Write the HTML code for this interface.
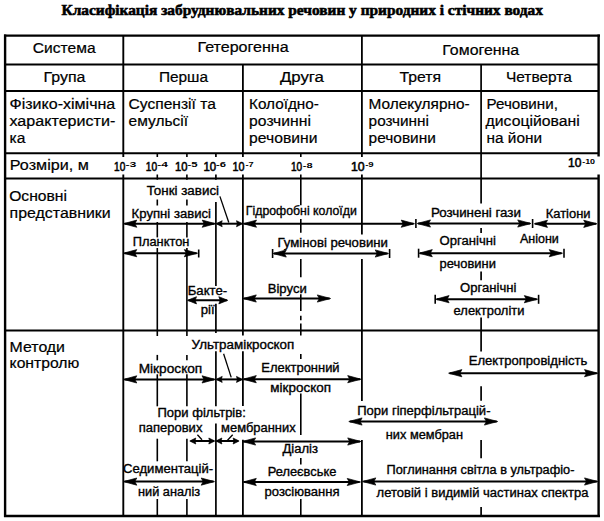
<!DOCTYPE html>
<html><head><meta charset="utf-8"><style>
html,body{margin:0;padding:0;background:#fff;width:604px;height:521px;overflow:hidden}
svg{display:block}
line{stroke:#000;stroke-linecap:butt}
path{fill:#000;stroke:#000;stroke-width:0.7;stroke-linejoin:miter}
text{fill:#000}
.h{font-family:"Liberation Sans",sans-serif;stroke:#000;stroke-width:0.2}
.l{font-family:"Liberation Sans",sans-serif;stroke:#000;stroke-width:0.35}
.p{font-family:"Liberation Sans",sans-serif;stroke:#000;stroke-width:0.55}
.s{font-family:"Liberation Sans",sans-serif;font-weight:bold}
.t{font-family:"Liberation Serif",serif;font-weight:bold;stroke:#000;stroke-width:0.6}
</style></head><body>
<svg width="604" height="521" viewBox="0 0 604 521">
<line x1="4" y1="35.6" x2="600" y2="35.6" stroke-width="2.4"/>
<line x1="5" y1="64.5" x2="598.5" y2="64.5" stroke-width="1.9"/>
<line x1="5" y1="91" x2="598.5" y2="91" stroke-width="1.9"/>
<line x1="5" y1="153.2" x2="598.5" y2="153.2" stroke-width="2.0"/>
<line x1="5" y1="178.4" x2="598.5" y2="178.4" stroke-width="2.0"/>
<line x1="5" y1="330.5" x2="598.5" y2="330.5" stroke-width="2.0"/>
<line x1="4" y1="516" x2="600" y2="516" stroke-width="2.4"/>
<line x1="5.1" y1="34.5" x2="5.1" y2="517" stroke-width="2.4"/>
<line x1="598.6" y1="34.5" x2="598.6" y2="156.5" stroke-width="2.4"/>
<line x1="598.6" y1="174.5" x2="598.6" y2="517" stroke-width="2.4"/>
<line x1="123.3" y1="35.6" x2="123.3" y2="157" stroke-width="1.9"/>
<line x1="123.3" y1="174.5" x2="123.3" y2="516" stroke-width="1.9"/>
<line x1="361.9" y1="35.6" x2="361.9" y2="157" stroke-width="1.8"/>
<line x1="361.9" y1="174.5" x2="361.9" y2="234.5" stroke-width="1.8"/>
<line x1="361.9" y1="259" x2="361.9" y2="401" stroke-width="1.8"/>
<line x1="361.9" y1="440" x2="361.9" y2="516" stroke-width="1.8"/>
<line x1="242.9" y1="64.5" x2="242.9" y2="157" stroke-width="1.8"/>
<line x1="242.9" y1="174.5" x2="242.9" y2="330.5" stroke-width="1.8"/>
<line x1="242.9" y1="330.5" x2="242.9" y2="335.5" stroke-width="1.8"/>
<line x1="242.9" y1="351.2" x2="242.9" y2="406" stroke-width="1.8"/>
<line x1="242.9" y1="439.8" x2="242.9" y2="516" stroke-width="1.8"/>
<line x1="481.1" y1="64.5" x2="481.1" y2="203.6" stroke-width="1.7"/>
<line x1="481.1" y1="228" x2="481.1" y2="233" stroke-width="1.7"/>
<line x1="481.1" y1="271.5" x2="481.1" y2="280.3" stroke-width="1.7"/>
<line x1="481.1" y1="317.5" x2="481.1" y2="351.5" stroke-width="1.7"/>
<line x1="481.1" y1="386.3" x2="481.1" y2="400.7" stroke-width="1.7"/>
<line x1="481.1" y1="440" x2="481.1" y2="458.3" stroke-width="1.7"/>
<line x1="481.1" y1="507" x2="481.1" y2="516" stroke-width="1.7"/>
<line x1="157.3" y1="153.2" x2="157.3" y2="157" stroke-width="1.6"/>
<line x1="157.3" y1="174.5" x2="157.3" y2="179.7" stroke-width="1.6"/>
<line x1="157.3" y1="199.5" x2="157.3" y2="205.5" stroke-width="1.6"/>
<line x1="157.3" y1="222" x2="157.3" y2="237.4" stroke-width="1.6"/>
<line x1="157.3" y1="248" x2="157.3" y2="336" stroke-width="1.6"/>
<line x1="157.3" y1="354.9" x2="157.3" y2="360.3" stroke-width="1.6"/>
<line x1="157.3" y1="374.3" x2="157.3" y2="406.3" stroke-width="1.6"/>
<line x1="157.3" y1="438.7" x2="157.3" y2="461.3" stroke-width="1.6"/>
<line x1="157.3" y1="499" x2="157.3" y2="516" stroke-width="1.6"/>
<line x1="186.9" y1="153.2" x2="186.9" y2="157" stroke-width="1.6"/>
<line x1="186.9" y1="174.5" x2="186.9" y2="179.7" stroke-width="1.6"/>
<line x1="186.9" y1="199.5" x2="186.9" y2="205.5" stroke-width="1.6"/>
<line x1="186.9" y1="222" x2="186.9" y2="237.4" stroke-width="1.6"/>
<line x1="186.9" y1="248" x2="186.9" y2="336" stroke-width="1.6"/>
<line x1="186.9" y1="354.9" x2="186.9" y2="360.3" stroke-width="1.6"/>
<line x1="186.9" y1="374.3" x2="186.9" y2="406.3" stroke-width="1.6"/>
<line x1="186.9" y1="438.7" x2="186.9" y2="461.3" stroke-width="1.6"/>
<line x1="186.9" y1="499" x2="186.9" y2="516" stroke-width="1.6"/>
<line x1="215.9" y1="153.2" x2="215.9" y2="157" stroke-width="1.7"/>
<line x1="215.9" y1="174.5" x2="215.9" y2="179.7" stroke-width="1.7"/>
<line x1="215.9" y1="202" x2="215.9" y2="286" stroke-width="1.7"/>
<line x1="215.9" y1="303.7" x2="215.9" y2="333" stroke-width="1.7"/>
<line x1="215.9" y1="351.2" x2="215.9" y2="406.3" stroke-width="1.7"/>
<line x1="215.9" y1="423.6" x2="215.9" y2="516" stroke-width="1.7"/>
<line x1="300.8" y1="153.2" x2="300.8" y2="157" stroke-width="1.6"/>
<line x1="300.8" y1="174.5" x2="300.8" y2="205.2" stroke-width="1.6"/>
<line x1="300.8" y1="219" x2="300.8" y2="232.8" stroke-width="1.6"/>
<line x1="300.8" y1="259" x2="300.8" y2="277.3" stroke-width="1.6"/>
<line x1="300.8" y1="294.2" x2="300.8" y2="311.1" stroke-width="1.6"/>
<line x1="300.8" y1="315.7" x2="300.8" y2="320.3" stroke-width="1.6"/>
<line x1="300.8" y1="323.4" x2="300.8" y2="335.4" stroke-width="1.6"/>
<line x1="300.8" y1="354" x2="300.8" y2="359" stroke-width="1.6"/>
<line x1="300.8" y1="393.6" x2="300.8" y2="435" stroke-width="1.6"/>
<line x1="300.8" y1="458" x2="300.8" y2="464.6" stroke-width="1.6"/>
<line x1="300.8" y1="499" x2="300.8" y2="516" stroke-width="1.6"/>
<line x1="124.5" y1="223.7" x2="214.5" y2="223.7" stroke-width="2.0"/>
<path d="M123.5,223.7 L136.8,220.1 L134.8,223.7 L136.8,227.3 Z"/>
<path d="M215.5,223.7 L202.2,220.1 L204.2,223.7 L202.2,227.3 Z"/>
<line x1="217.2" y1="223.7" x2="241.5" y2="223.7" stroke-width="2.0"/>
<path d="M216.2,223.7 L222.2,220.7 L221.3,223.7 L222.2,226.7 Z"/>
<path d="M242.5,223.7 L236.5,220.7 L237.4,223.7 L236.5,226.7 Z"/>
<line x1="219.9" y1="196.4" x2="228.8" y2="222.5" stroke-width="1.3"/>
<line x1="244.2" y1="223.7" x2="413.5" y2="223.7" stroke-width="2.0"/>
<path d="M243.2,223.7 L256.5,220.1 L254.5,223.7 L256.5,227.3 Z"/>
<path d="M414.5,223.7 L401.2,220.1 L403.2,223.7 L401.2,227.3 Z"/>
<line x1="415.9" y1="219.0" x2="415.9" y2="228.0" stroke-width="1.6"/>
<line x1="418.2" y1="223.5" x2="530" y2="223.5" stroke-width="2.0"/>
<path d="M417.2,223.5 L430.5,219.9 L428.5,223.5 L430.5,227.1 Z"/>
<path d="M531,223.5 L517.7,219.9 L519.7,223.5 L517.7,227.1 Z"/>
<line x1="532.6" y1="219.0" x2="532.6" y2="228.0" stroke-width="1.6"/>
<line x1="535.2" y1="223.8" x2="596" y2="223.8" stroke-width="2.0"/>
<path d="M534.2,223.8 L547.5,220.2 L545.5,223.8 L547.5,227.4 Z"/>
<path d="M597,223.8 L583.7,220.2 L585.7,223.8 L583.7,227.4 Z"/>
<line x1="124.5" y1="253.2" x2="196.6" y2="253.2" stroke-width="2.0"/>
<path d="M123.5,253.2 L136.8,249.6 L134.8,253.2 L136.8,256.8 Z"/>
<path d="M197.6,253.2 L184.3,249.6 L186.3,253.2 L184.3,256.8 Z"/>
<line x1="198.7" y1="249.5" x2="198.7" y2="257.5" stroke-width="1.6"/>
<line x1="274" y1="253.5" x2="387.5" y2="253.5" stroke-width="2.0"/>
<path d="M273,253.5 L286.3,249.9 L284.3,253.5 L286.3,257.1 Z"/>
<path d="M388.5,253.5 L375.2,249.9 L377.2,253.5 L375.2,257.1 Z"/>
<line x1="272.6" y1="249.0" x2="272.6" y2="258.0" stroke-width="1.6"/>
<line x1="389.6" y1="249.0" x2="389.6" y2="258.0" stroke-width="1.6"/>
<line x1="420" y1="253.2" x2="561.5" y2="253.2" stroke-width="2.0"/>
<path d="M419,253.2 L432.3,249.6 L430.3,253.2 L432.3,256.8 Z"/>
<path d="M562.5,253.2 L549.2,249.6 L551.2,253.2 L549.2,256.8 Z"/>
<line x1="418.6" y1="248.7" x2="418.6" y2="257.7" stroke-width="1.6"/>
<line x1="564" y1="248.7" x2="564" y2="257.7" stroke-width="1.6"/>
<line x1="188.5" y1="300.3" x2="226.8" y2="300.3" stroke-width="2.0"/>
<path d="M187.5,300.3 L196.5,296.7 L195.2,300.3 L196.5,303.9 Z"/>
<path d="M227.8,300.3 L218.8,296.7 L220.2,300.3 L218.8,303.9 Z"/>
<line x1="244" y1="298.5" x2="329.6" y2="298.5" stroke-width="2.0"/>
<path d="M243,298.5 L256.3,294.9 L254.3,298.5 L256.3,302.1 Z"/>
<path d="M330.6,298.5 L317.3,294.9 L319.3,298.5 L317.3,302.1 Z"/>
<line x1="436.8" y1="299.2" x2="536.6" y2="299.2" stroke-width="2.0"/>
<path d="M435.8,299.2 L449.1,295.6 L447.1,299.2 L449.1,302.8 Z"/>
<path d="M537.6,299.2 L524.3,295.6 L526.3,299.2 L524.3,302.8 Z"/>
<line x1="435.2" y1="294.8" x2="435.2" y2="303.8" stroke-width="1.6"/>
<line x1="538.6" y1="294.8" x2="538.6" y2="303.8" stroke-width="1.6"/>
<line x1="124.5" y1="379.4" x2="214.3" y2="379.4" stroke-width="2.0"/>
<path d="M123.5,379.4 L136.8,375.8 L134.8,379.4 L136.8,383.0 Z"/>
<path d="M215.3,379.4 L202.0,375.8 L204.0,379.4 L202.0,383.0 Z"/>
<line x1="217.2" y1="379.4" x2="241.5" y2="379.4" stroke-width="2.0"/>
<path d="M216.2,379.4 L222.2,376.4 L221.3,379.4 L222.2,382.4 Z"/>
<path d="M242.5,379.4 L236.5,376.4 L237.4,379.4 L236.5,382.4 Z"/>
<line x1="223.6" y1="353.8" x2="231.2" y2="377.4" stroke-width="1.3"/>
<line x1="244" y1="379.2" x2="360" y2="379.2" stroke-width="2.0"/>
<path d="M243,379.2 L256.3,375.6 L254.3,379.2 L256.3,382.8 Z"/>
<path d="M361,379.2 L347.7,375.6 L349.7,379.2 L347.7,382.8 Z"/>
<line x1="449.6" y1="373.2" x2="596.8" y2="373.2" stroke-width="2.0"/>
<path d="M448.6,373.2 L461.9,369.6 L459.9,373.2 L461.9,376.8 Z"/>
<path d="M597.8,373.2 L584.5,369.6 L586.5,373.2 L584.5,376.8 Z"/>
<line x1="190.8" y1="441" x2="213.8" y2="441" stroke-width="2.0"/>
<path d="M189.8,441 L195.8,438.0 L194.9,441 L195.8,444.0 Z"/>
<path d="M214.8,441 L208.8,438.0 L209.7,441 L208.8,444.0 Z"/>
<line x1="197.4" y1="434.8" x2="202" y2="439.7" stroke-width="1.3"/>
<line x1="216.9" y1="441" x2="238.1" y2="441" stroke-width="2.0"/>
<path d="M215.9,441 L221.9,438.0 L221.0,441 L221.9,444.0 Z"/>
<path d="M239.1,441 L233.1,438.0 L234.0,441 L233.1,444.0 Z"/>
<line x1="232.7" y1="434.8" x2="227.5" y2="440.3" stroke-width="1.3"/>
<line x1="349.8" y1="421.5" x2="496.7" y2="421.5" stroke-width="2.0"/>
<path d="M348.8,421.5 L362.1,417.9 L360.1,421.5 L362.1,425.1 Z"/>
<path d="M497.7,421.5 L484.4,417.9 L486.4,421.5 L484.4,425.1 Z"/>
<line x1="243.3" y1="441.5" x2="360" y2="441.5" stroke-width="2.0"/>
<path d="M242.3,441.5 L255.6,437.9 L253.6,441.5 L255.6,445.1 Z"/>
<path d="M361,441.5 L347.7,437.9 L349.7,441.5 L347.7,445.1 Z"/>
<line x1="124.5" y1="481.6" x2="213.5" y2="481.6" stroke-width="2.0"/>
<path d="M123.5,481.6 L136.8,478.0 L134.8,481.6 L136.8,485.2 Z"/>
<path d="M214.5,481.6 L201.2,478.0 L203.2,481.6 L201.2,485.2 Z"/>
<line x1="244" y1="482" x2="359.5" y2="482" stroke-width="2.0"/>
<path d="M243,482 L256.3,478.4 L254.3,482 L256.3,485.6 Z"/>
<path d="M360.5,482 L347.2,478.4 L349.2,482 L347.2,485.6 Z"/>
<line x1="363.5" y1="481.5" x2="596.8" y2="481.5" stroke-width="2.0"/>
<path d="M362.5,481.5 L375.8,477.9 L373.8,481.5 L375.8,485.1 Z"/>
<path d="M597.8,481.5 L584.5,477.9 L586.5,481.5 L584.5,485.1 Z"/>
<text class="h" x="32.8" y="53" font-size="14" textLength="62.8" lengthAdjust="spacingAndGlyphs">Система</text>
<text class="h" x="197.5" y="52.2" font-size="14" textLength="91.2" lengthAdjust="spacingAndGlyphs">Гетерогенна</text>
<text class="h" x="442.3" y="54.5" font-size="14" textLength="76.9" lengthAdjust="spacingAndGlyphs">Гомогенна</text>
<text class="h" x="43.5" y="81.9" font-size="14" textLength="41.9" lengthAdjust="spacingAndGlyphs">Група</text>
<text class="h" x="158.9" y="81.9" font-size="14" textLength="49.1" lengthAdjust="spacingAndGlyphs">Перша</text>
<text class="h" x="279.9" y="81.9" font-size="14" textLength="44.1" lengthAdjust="spacingAndGlyphs">Друга</text>
<text class="h" x="399.4" y="81.9" font-size="14" textLength="41.6" lengthAdjust="spacingAndGlyphs">Третя</text>
<text class="h" x="505.9" y="81.9" font-size="14" textLength="66.0" lengthAdjust="spacingAndGlyphs">Четверта</text>
<text class="h" x="9.5" y="108.9" font-size="14" textLength="105.8" lengthAdjust="spacingAndGlyphs">Фізико-хімічна</text>
<text class="h" x="9.5" y="125.8" font-size="14" textLength="105.8" lengthAdjust="spacingAndGlyphs">характеристи-</text>
<text class="h" x="9.5" y="142.6" font-size="14" textLength="15.8" lengthAdjust="spacingAndGlyphs">ка</text>
<text class="h" x="128.6" y="109" font-size="14" textLength="87.2" lengthAdjust="spacingAndGlyphs">Суспензії та</text>
<text class="h" x="128.6" y="125.8" font-size="14" textLength="59.4" lengthAdjust="spacingAndGlyphs">емульсії</text>
<text class="h" x="249.0" y="109" font-size="14" textLength="69.9" lengthAdjust="spacingAndGlyphs">Колоїдно-</text>
<text class="h" x="249.1" y="125.8" font-size="14" textLength="61.8" lengthAdjust="spacingAndGlyphs">розчинні</text>
<text class="h" x="249.1" y="142.6" font-size="14" textLength="68.4" lengthAdjust="spacingAndGlyphs">речовини</text>
<text class="h" x="368.6" y="109" font-size="14" textLength="101.1" lengthAdjust="spacingAndGlyphs">Молекулярно-</text>
<text class="h" x="368.6" y="125.8" font-size="14" textLength="60.4" lengthAdjust="spacingAndGlyphs">розчинні</text>
<text class="h" x="368.6" y="142.6" font-size="14" textLength="67.3" lengthAdjust="spacingAndGlyphs">речовини</text>
<text class="h" x="486.6" y="109" font-size="14" textLength="71.3" lengthAdjust="spacingAndGlyphs">Речовини,</text>
<text class="h" x="485.6" y="125.8" font-size="14" textLength="94.1" lengthAdjust="spacingAndGlyphs">дисоційовані</text>
<text class="h" x="486.6" y="142.6" font-size="14" textLength="55.4" lengthAdjust="spacingAndGlyphs">на йони</text>
<text class="h" x="9.8" y="169.5" font-size="14" textLength="79.0" lengthAdjust="spacingAndGlyphs">Розміри, м</text>
<text class="h" x="9.2" y="201.4" font-size="14" textLength="57.8" lengthAdjust="spacingAndGlyphs">Основні</text>
<text class="h" x="9.6" y="217.7" font-size="14" textLength="101.1" lengthAdjust="spacingAndGlyphs">представники</text>
<text class="h" x="9.6" y="351.9" font-size="14" textLength="55.4" lengthAdjust="spacingAndGlyphs">Методи</text>
<text class="h" x="9.6" y="367.8" font-size="14" textLength="69.7" lengthAdjust="spacingAndGlyphs">контролю</text>
<text class="p" x="114.1" y="170.7" font-size="12" textLength="11.2" lengthAdjust="spacingAndGlyphs">10</text>
<text class="s" x="125.5" y="167.1" font-size="7.3" textLength="10.9" lengthAdjust="spacingAndGlyphs">-3</text>
<text class="p" x="145.8" y="170.7" font-size="12" textLength="11.3" lengthAdjust="spacingAndGlyphs">10</text>
<text class="s" x="157.3" y="167.1" font-size="7.3" textLength="10.7" lengthAdjust="spacingAndGlyphs">-4</text>
<text class="p" x="174.9" y="170.7" font-size="12" textLength="12.5" lengthAdjust="spacingAndGlyphs">10</text>
<text class="s" x="187.5" y="167.1" font-size="7.3" textLength="10.1" lengthAdjust="spacingAndGlyphs">-5</text>
<text class="p" x="203.4" y="170.7" font-size="12" textLength="12.7" lengthAdjust="spacingAndGlyphs">10</text>
<text class="s" x="216.0" y="167.1" font-size="7.3" textLength="10.0" lengthAdjust="spacingAndGlyphs">-6</text>
<text class="p" x="232.6" y="170.9" font-size="12" textLength="12.0" lengthAdjust="spacingAndGlyphs">10</text>
<text class="s" x="245.5" y="167.3" font-size="7.3" textLength="8.2" lengthAdjust="spacingAndGlyphs">-7</text>
<text class="p" x="290.9" y="171.2" font-size="12" textLength="11.2" lengthAdjust="spacingAndGlyphs">10</text>
<text class="s" x="302.8" y="167.6" font-size="7.3" textLength="9.8" lengthAdjust="spacingAndGlyphs">-8</text>
<text class="p" x="351.0" y="170.9" font-size="12" textLength="13.7" lengthAdjust="spacingAndGlyphs">10</text>
<text class="s" x="365.2" y="167.3" font-size="7.3" textLength="8.5" lengthAdjust="spacingAndGlyphs">-9</text>
<text class="p" x="568.0" y="167.4" font-size="12" textLength="13.4" lengthAdjust="spacingAndGlyphs">10</text>
<text class="s" x="582.2" y="163.8" font-size="7.3" textLength="12.9" lengthAdjust="spacingAndGlyphs">-10</text>
<text class="l" x="146.7" y="194.9" font-size="12.5" textLength="72.4" lengthAdjust="spacingAndGlyphs">Тонкі завиcі</text>
<text class="l" x="131.6" y="218" font-size="12.5" textLength="79.4" lengthAdjust="spacingAndGlyphs">Крупні завиcі</text>
<text class="l" x="132.7" y="246" font-size="12.5" textLength="56.7" lengthAdjust="spacingAndGlyphs">Планктон</text>
<text class="l" x="187.7" y="294.5" font-size="12.5" textLength="39.5" lengthAdjust="spacingAndGlyphs">Бакте-</text>
<text class="l" x="200.8" y="313.7" font-size="12.5" textLength="13.9" lengthAdjust="spacingAndGlyphs">рії</text>
<text class="l" x="245.8" y="214.7" font-size="12.5" textLength="111.0" lengthAdjust="spacingAndGlyphs">Гідрофобні колоїди</text>
<text class="l" x="277.6" y="247" font-size="12.5" textLength="110.3" lengthAdjust="spacingAndGlyphs">Гумінові речовини</text>
<text class="l" x="267.7" y="293" font-size="12.5" textLength="39.1" lengthAdjust="spacingAndGlyphs">Віруси</text>
<text class="l" x="430.9" y="217" font-size="12.5" textLength="90.0" lengthAdjust="spacingAndGlyphs">Розчинені гази</text>
<text class="l" x="545.7" y="218" font-size="12.5" textLength="44.9" lengthAdjust="spacingAndGlyphs">Катіони</text>
<text class="l" x="519.9" y="243.2" font-size="12.5" textLength="38.9" lengthAdjust="spacingAndGlyphs">Аніони</text>
<text class="l" x="439.6" y="244.5" font-size="12.5" textLength="56.3" lengthAdjust="spacingAndGlyphs">Органічні</text>
<text class="l" x="439.6" y="267.5" font-size="12.5" textLength="56.3" lengthAdjust="spacingAndGlyphs">речовини</text>
<text class="l" x="460.1" y="291.5" font-size="12.5" textLength="56.3" lengthAdjust="spacingAndGlyphs">Органічні</text>
<text class="l" x="453.6" y="314.6" font-size="12.5" textLength="70.8" lengthAdjust="spacingAndGlyphs">електроліти</text>
<text class="l" x="191.6" y="348.9" font-size="12.5" textLength="102.7" lengthAdjust="spacingAndGlyphs">Ультрамікроскоп</text>
<text class="l" x="138.7" y="373.2" font-size="12.5" textLength="63.6" lengthAdjust="spacingAndGlyphs">Мікроскоп</text>
<text class="l" x="261.3" y="372.1" font-size="12.5" textLength="78.3" lengthAdjust="spacingAndGlyphs">Електронний</text>
<text class="l" x="270.3" y="391.5" font-size="12.5" textLength="60.7" lengthAdjust="spacingAndGlyphs">мікроскоп</text>
<text class="l" x="468.7" y="365.3" font-size="12.5" textLength="118.7" lengthAdjust="spacingAndGlyphs">Електропровідність</text>
<text class="l" x="157.5" y="416.7" font-size="12.5" textLength="88.3" lengthAdjust="spacingAndGlyphs">Пори фільтрів:</text>
<text class="l" x="138.7" y="432.3" font-size="12.5" textLength="63.7" lengthAdjust="spacingAndGlyphs">паперових</text>
<text class="l" x="221.1" y="432.1" font-size="12.5" textLength="74.5" lengthAdjust="spacingAndGlyphs">мембранних</text>
<text class="l" x="357.2" y="414.6" font-size="12.5" textLength="133.3" lengthAdjust="spacingAndGlyphs">Пори гіперфільтрацій-</text>
<text class="l" x="385.8" y="438.7" font-size="12.5" textLength="77.2" lengthAdjust="spacingAndGlyphs">них мембран</text>
<text class="l" x="282.4" y="452.7" font-size="12.5" textLength="35.6" lengthAdjust="spacingAndGlyphs">Діаліз</text>
<text class="l" x="123.0" y="473.2" font-size="12.5" textLength="90.1" lengthAdjust="spacingAndGlyphs">Седиментацій-</text>
<text class="l" x="138.0" y="495.8" font-size="12.5" textLength="62.2" lengthAdjust="spacingAndGlyphs">ний аналіз</text>
<text class="l" x="267.7" y="476.4" font-size="12.5" textLength="68.6" lengthAdjust="spacingAndGlyphs">Релеєвське</text>
<text class="l" x="264.5" y="495.8" font-size="12.5" textLength="75.1" lengthAdjust="spacingAndGlyphs">розсіювання</text>
<text class="l" x="386.6" y="474" font-size="12.5" textLength="187.8" lengthAdjust="spacingAndGlyphs">Поглинання світла в ультрафіо-</text>
<text class="l" x="376.6" y="497.2" font-size="12.5" textLength="211.8" lengthAdjust="spacingAndGlyphs">летовій і видимій частинах спектра</text>
<text class="t" x="61.5" y="14.6" font-size="15" textLength="481.5" lengthAdjust="spacingAndGlyphs">Класифікація забруднювальних речовин у природних і стічних водах</text>
</svg>
</body></html>
